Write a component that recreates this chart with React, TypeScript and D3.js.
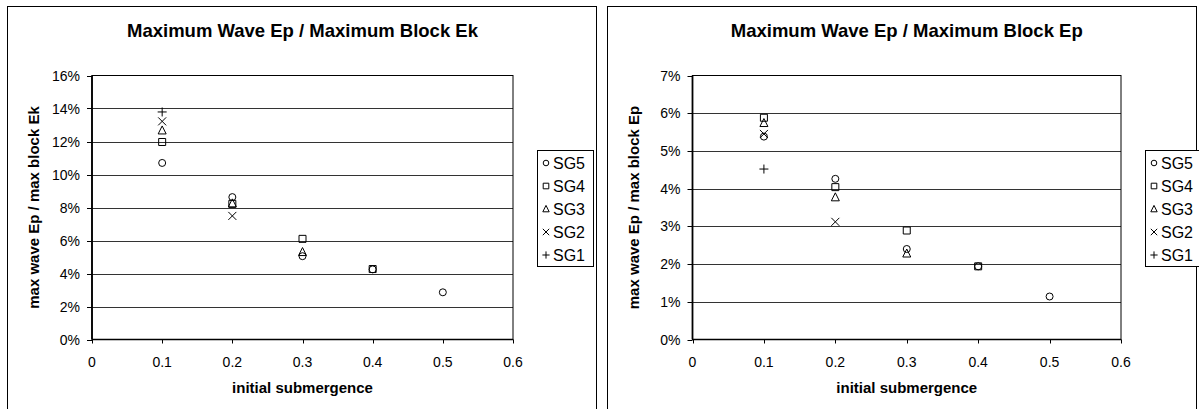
import React from 'react'
import * as d3 from 'd3'

// x positions (initial submergence)
const submergence = [0.1, 0.2, 0.3, 0.4, 0.5]
const xTicks = [0, 0.1, 0.2, 0.3, 0.4, 0.5, 0.6]

const seriesNames = ['SG5', 'SG4', 'SG3', 'SG2', 'SG1']
const markerOf = { SG5: 'circle', SG4: 'square', SG3: 'triangle', SG2: 'times', SG1: 'plus' }

// left chart: max wave Ep / max block Ek (fractions, null = no point)
const ekSG5 = [0.107, 0.0863, 0.0505, 0.0425, 0.0286]
const ekSG4 = [0.1197, 0.0822, 0.061, 0.0427, null]
const ekSG3 = [0.1267, 0.0825, 0.053, null, null]
const ekSG2 = [0.1322, 0.0749, null, null, null]
const ekSG1 = [0.1379, null, null, null, null]
const ekTicks = [0, 0.02, 0.04, 0.06, 0.08, 0.1, 0.12, 0.14, 0.16]

// right chart: max wave Ep / max block Ep
const epSG5 = [0.0538, 0.0426, 0.024, 0.0194, 0.0114]
const epSG4 = [0.0588, 0.0404, 0.0289, 0.0194, null]
const epSG3 = [0.0574, 0.0377, 0.0228, null, null]
const epSG2 = [0.0545, 0.0312, null, null, null]
const epSG1 = [0.0452, null, null, null, null]
const epTicks = [0, 0.01, 0.02, 0.03, 0.04, 0.05, 0.06, 0.07]

const FONT = "Arial, 'Liberation Sans', sans-serif"

function markerPath(kind, cx, cy, k = 1) {
  const p = d3.path()
  if (kind === 'circle') {
    p.moveTo(cx + 3.5 * k, cy)
    p.arc(cx, cy, 3.5 * k, 0, Math.PI * 2)
  } else if (kind === 'square') {
    p.rect(cx - 3.5 * k, cy - 3.5 * k, 7 * k, 7 * k)
  } else if (kind === 'triangle') {
    p.moveTo(cx, cy - 4.5 * k)
    p.lineTo(cx + 4 * k, cy + 3.5 * k)
    p.lineTo(cx - 4 * k, cy + 3.5 * k)
    p.closePath()
  } else if (kind === 'times') {
    p.moveTo(cx - 4 * k, cy - 4 * k)
    p.lineTo(cx + 4 * k, cy + 4 * k)
    p.moveTo(cx + 4 * k, cy - 4 * k)
    p.lineTo(cx - 4 * k, cy + 4 * k)
  } else {
    p.moveTo(cx - 4.5 * k, cy)
    p.lineTo(cx + 4.5 * k, cy)
    p.moveTo(cx, cy - 4.5 * k)
    p.lineTo(cx, cy + 4.5 * k)
  }
  return p.toString()
}

function Chart({ ox, title, yLabel, values, ticks, yMax, plotLeft, plotRight, legendLeft, legendRight }) {
  const top = 75.5
  const bottom = 339.5
  const x = d3.scaleLinear().domain([0, 0.6]).range([plotLeft, plotRight])
  const y = d3.scaleLinear().domain([0, yMax]).range([bottom, top])
  const fmt = d3.format('.0%')
  const midX = (plotLeft + plotRight) / 2

  return (
    <g fontFamily={FONT}>
      <rect x={ox + 7.5} y={6.5} width={589} height={420} fill="white" stroke="black" strokeWidth={1} />
      <text x={midX} y={36.5} textAnchor="middle" fontSize={18.5} fontWeight="bold">{title}</text>

      {ticks.map(t => (
        <g key={t}>
          {t > 0 && t < yMax && (
            <line x1={plotLeft} x2={plotRight} y1={Math.round(y(t)) + 0.5} y2={Math.round(y(t)) + 0.5}
              stroke="#333" strokeWidth={1} />
          )}
          <line x1={plotLeft - 5} x2={plotLeft} y1={Math.round(y(t)) + 0.5} y2={Math.round(y(t)) + 0.5} stroke="black" />
          <text x={plotLeft - 12} y={y(t) + 5} textAnchor="end" fontSize={14}>{fmt(t)}</text>
        </g>
      ))}

      <rect x={plotLeft} y={top} width={plotRight - plotLeft} height={bottom - top} fill="none" stroke="black" strokeWidth={1} />
      <line x1={plotLeft} x2={plotLeft} y1={top} y2={bottom} stroke="black" strokeWidth={1.8} />
      <line x1={plotLeft} x2={plotRight} y1={bottom} y2={bottom} stroke="black" strokeWidth={1.5} />

      {xTicks.map(t => (
        <g key={t}>
          <line x1={Math.round(x(t)) + 0.5} x2={Math.round(x(t)) + 0.5} y1={bottom} y2={bottom + 4} stroke="black" />
          <text x={x(t)} y={367} textAnchor="middle" fontSize={14}>{String(t)}</text>
        </g>
      ))}

      <text x={midX} y={393} textAnchor="middle" fontSize={15} fontWeight="bold">initial submergence</text>
      <text transform={`translate(${ox + 38.5},${(top + bottom) / 2}) rotate(-90)`} textAnchor="middle"
        fontSize={15} fontWeight="bold">{yLabel}</text>

      {seriesNames.map((name, si) => (
        <g key={name}>
          {values[si].map((v, i) => v == null ? null : (
            <path key={i} d={markerPath(markerOf[name], x(submergence[i]), y(v))}
              fill="none" stroke="black" strokeWidth={1} />
          ))}
        </g>
      ))}

      <rect x={legendLeft + 0.5} y={150.5} width={legendRight - legendLeft} height={116} fill="white" stroke="black" />
      {seriesNames.map((name, si) => {
        const cy = 163 + si * 23
        return (
          <g key={name}>
            <path d={markerPath(markerOf[name], legendLeft + 9, cy, 0.8)} fill="none" stroke="black" strokeWidth={1} />
            <text x={legendLeft + 16} y={cy + 6} fontSize={16}>{name}</text>
          </g>
        )
      })}
    </g>
  )
}

export default function App() {
  return (
    <svg width={1199} height={409} style={{ position: 'absolute', left: 0, top: 0, background: 'white' }}>
      <Chart ox={0} title="Maximum Wave Ep / Maximum Block Ek" yLabel="max wave Ep / max block Ek"
        values={[ekSG5, ekSG4, ekSG3, ekSG2, ekSG1]} ticks={ekTicks} yMax={0.16}
        plotLeft={92} plotRight={513} legendLeft={537} legendRight={593} />
      <Chart ox={600} title="Maximum Wave Ep / Maximum Block Ep" yLabel="max wave Ep / max block Ep"
        values={[epSG5, epSG4, epSG3, epSG2, epSG1]} ticks={epTicks} yMax={0.07}
        plotLeft={692.5} plotRight={1121} legendLeft={1145} legendRight={1205} />
    </svg>
  )
}
